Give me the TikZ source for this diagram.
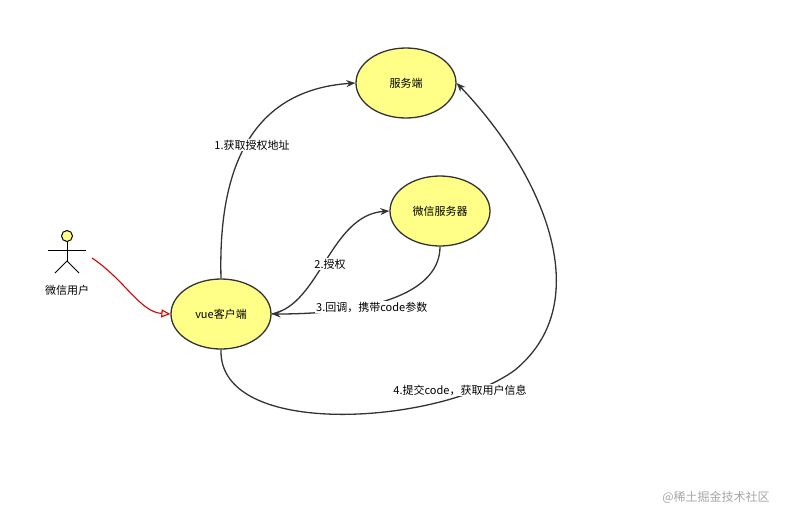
\documentclass[tikz,border=0pt]{standalone}
\usepackage{fontspec}
\setmainfont{Noto Sans CJK SC}
\usetikzlibrary{shapes.geometric,arrows.meta}
\definecolor{fillY}{HTML}{FFFF88}
\definecolor{edgeC}{HTML}{333333}
\tikzset{
  ell/.style={ellipse,draw=edgeC,line width=1.3pt,fill=fillY,minimum width=100pt,minimum height=70pt,inner sep=0pt,font=\fontsize{11}{13}\selectfont},
  conn/.style={draw=edgeC,line width=1.3pt,-{Stealth[length=9pt,width=7pt]}},
  lbl/.style={font=\fontsize{11}{13}\selectfont,fill=white,inner sep=1pt},
  stick/.style={draw=black,line width=1pt}
}
\begin{document}
\begin{tikzpicture}[x=1pt,y=-1pt]
\useasboundingbox (0,0) rectangle (808,523);
\node[ell] (srv) at (406,83) {服务端};
\node[ell] (wx) at (440,211) {微信服务器};
\node[ell] (vue) at (221,314) {vue客户端};
% actor
\draw[stick,fill=fillY] (67,236) circle (5.5);
\coordinate (neck) at (67,241.5);
\coordinate (hip) at (67,261);
\draw[stick] (neck) -- (hip);
\draw[stick] (48,250) -- (86,250);
\draw[stick] (hip) -- (55,273);
\draw[stick] (hip) -- (79,273);
\node[font=\fontsize{11}{13}\selectfont] (user) at (67,290) {微信用户};
\coordinate (ustart) at (92,258);
\draw[red!85!black,line width=1.1pt,-{Triangle[open,length=9pt,width=8pt]}] (ustart) .. controls (125,280) and (140,312) .. (vue.west);
% 1
\draw[conn] (vue.north) .. controls (218,170) and (250,90) .. (srv.west);
\node[lbl] (l1) at (252,145) {1.获取授权地址};
% 2
\draw[conn] (vue.east) .. controls (320,305) and (330,215) .. (wx.west);
\node[lbl] (l2) at (330,264) {2.授权};
% 3
\draw[conn] (wx.south) .. controls (440,290) and (380,314) .. (vue.east);
\node[lbl,anchor=west] (l3) at (315,307) {3.回调，携带code参数};
% 4
\draw[conn] (vue.south) .. controls (218,440) and (440,425) .. (515,370) .. controls (600,300) and (540,170) .. (srv.east);
\node[lbl] (l4) at (460,390) {4.提交code，获取用户信息};
\node[font=\fontsize{12}{14}\selectfont,text=gray!70] (wm) at (716,497) {@稀土掘金技术社区};
\end{tikzpicture}
\end{document}
